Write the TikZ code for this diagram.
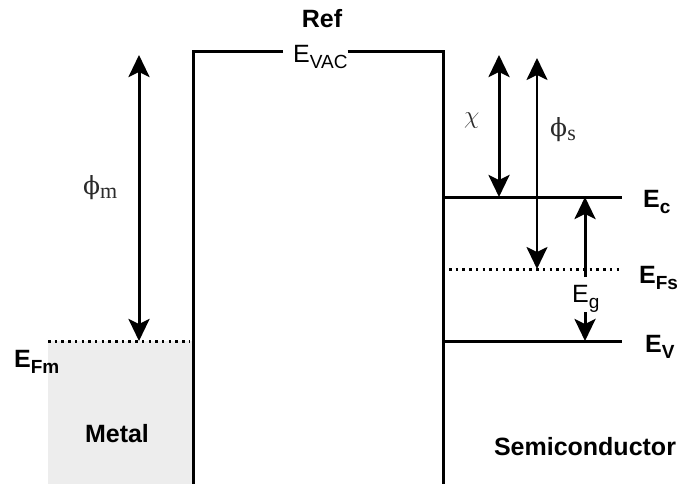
\documentclass[tikz,border=0pt]{standalone}
\usepackage{fontspec}
\setmainfont{Liberation Sans}
\newfontfamily\greekfont{Liberation Serif}
\newfontfamily\phifont{DejaVu Serif}
\usetikzlibrary{arrows.meta}
\definecolor{metalgray}{HTML}{EDEDED}
\definecolor{greekcol}{HTML}{2B2B2B}
\newcommand{\Esub}[1]{E\raisebox{-6pt}{\fontsize{19}{19}\selectfont #1}}
\newcommand{\Gsub}[2]{{\phifont\fontsize{25}{28}\selectfont #1}\raisebox{-4pt}{\fontsize{22}{22}\selectfont #2}}
\begin{document}
\begin{tikzpicture}[x=1pt,y=-1pt,
  lvl/.style={line width=3pt},
  dotlvl/.style={line width=3pt, dash pattern=on 2.5pt off 4.2pt},
  tipstyle/.tip={Stealth[length=22pt,width=21pt,inset=5pt]},
  dbl/.style={line width=3pt, tipstyle-tipstyle},
  onearrow/.style={line width=3pt, -tipstyle},
  lbl/.style={font=\fontsize{25}{30}\selectfont, inner sep=0pt, anchor=base west},
  blbl/.style={font=\fontsize{25}{30}\selectfont\bfseries, inner sep=0pt, anchor=base},
  greek/.style={font=\greekfont\fontsize{28}{32}\selectfont, text=greekcol, inner sep=0pt}]
\useasboundingbox (0,0) rectangle (679,484);
% metal region
\fill[metalgray] (48,341) rectangle (193,484);
% coordinates
\coordinate (vl) at (193,52);
\coordinate (vlb) at (193,484);
\coordinate (vr) at (443,52);
\coordinate (vrb) at (443,484);
\coordinate (efmL) at (48,341);
\coordinate (efmR) at (190,341);
\coordinate (ecL) at (443,197);
\coordinate (ecR) at (622,197);
\coordinate (efsL) at (449,269);
\coordinate (efsR) at (622,269);
\coordinate (evL) at (443,341);
\coordinate (evR) at (622,341);
% labels
\node[blbl] (ref) at (322,28) {Ref};
\node[lbl] (evac) at (293,63) {\Esub{VAC}};
\node[lbl,font=\fontsize{25}{30}\selectfont\bfseries] (ec) at (643,207) {\Esub{c}};
\node[lbl,font=\fontsize{25}{30}\selectfont\bfseries] (efs) at (639,283) {\Esub{Fs}};
\node[lbl,font=\fontsize{25}{30}\selectfont\bfseries] (ev) at (645,352) {\Esub{V}};
\node[lbl,font=\fontsize{25}{30}\selectfont\bfseries] (efm) at (14,367) {\Esub{Fm}};
\node[lbl] (eg) at (572,302) {\Esub{g}};
\node[blbl] (metal) at (117,442) {Metal};
\node[blbl] (semi) at (585,455) {Semiconductor};
\node[greek,anchor=base west] (phim) at (83,194) {\Gsub{ϕ}{m}};
\node[greek,anchor=base west,font=\fontsize{40}{44}\selectfont] (chi) at (464,124) {$\chi$};
\node[greek,anchor=base west] (phis) at (550,136) {\Gsub{ϕ}{s}};
% vacuum box
\draw[lvl] (evac.west |- vl) ++(-10,0) coordinate (vlend) -- (vl) -- (vlb);
\draw[lvl] (evac.east |- vr) coordinate (vrstart) -- (vr) -- (vrb);
% levels
\draw[dotlvl] (efmL) -- (efmR);
\draw[lvl] (ecL) -- (ecR);
\draw[dotlvl] (efsL) -- (efsR);
\draw[lvl] (evL) -- (evR);
% arrows
\coordinate (phimT) at (139,55);
\coordinate (phimB) at (139,341);
\draw[dbl] (phimT) -- (phimB);
\coordinate (chiT) at (499,55);
\coordinate (chiB) at (499,197);
\draw[dbl] (chiT) -- (chiB);
\coordinate (phisT) at (537,58);
\coordinate (phisB) at (537,269);
\draw[dbl,line width=2.5pt] (phisT) -- (phisB);
\coordinate (egT) at (585,197);
\coordinate (egM1) at (585,277);
\coordinate (egM2) at (585,312);
\coordinate (egB) at (585,341);
\draw[onearrow] (egM1) -- (egT);
\draw[onearrow] (egM2) -- (egB);
\end{tikzpicture}
\end{document}
